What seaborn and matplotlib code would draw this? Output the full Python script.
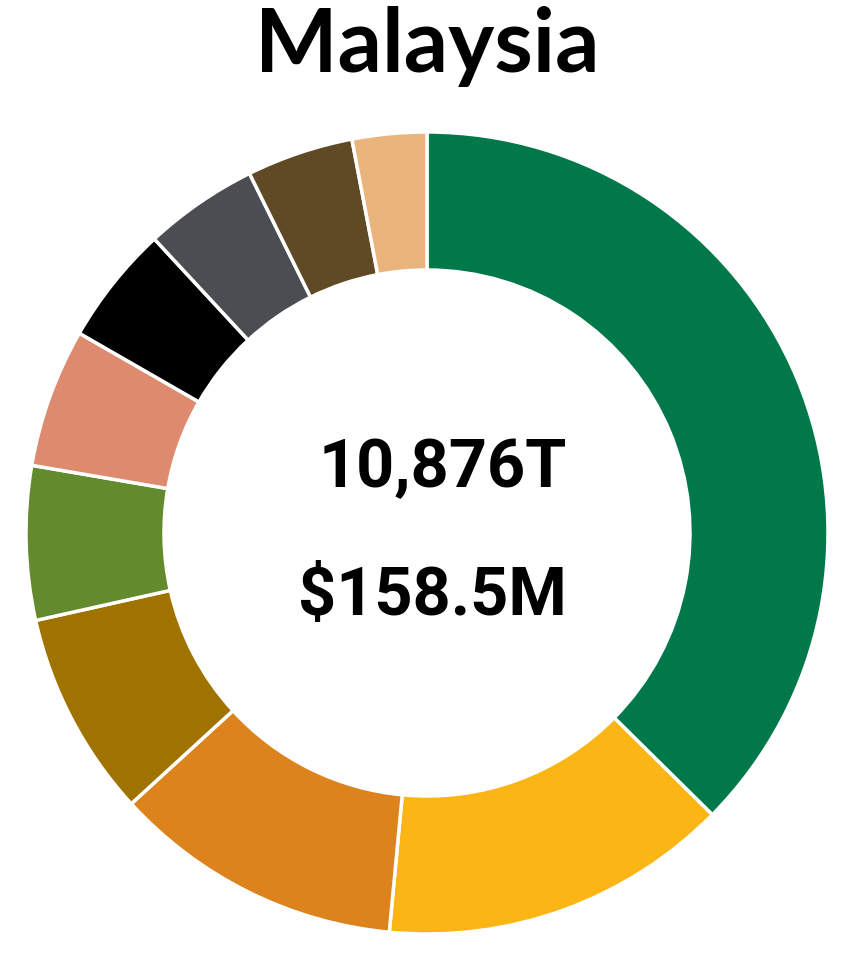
import numpy as np
import matplotlib
matplotlib.use("Agg")
import matplotlib.pyplot as plt
import seaborn as sns

# Donut data, clockwise from 12 o'clock (shares in %)
segments = ["S1", "S2", "S3", "S4", "S5", "S6", "S7", "S8", "S9", "S10"]
shares = [37.4, 14.1, 11.7, 8.3, 6.2, 5.6, 4.8, 4.6, 4.3, 3.0]
colors = ["#00784A", "#FBB616", "#DC831D", "#A07300", "#638B2E",
          "#DE8A6E", "#000000", "#4A4D52", "#5F4A25", "#EAB57D"]

title = "Malaysia"
volume_label = "10,876T"
value_label = "$158.5M"

sns.set_theme(style="white")
plt.rcParams["font.family"] = ["Roboto", "DejaVu Sans"]

W, H = 853, 975
fig = plt.figure(figsize=(W / 100, H / 100), dpi=100)
ax = fig.add_axes([0, 0, 1, 1])

cx, cy = 427, H - 533
r_out, r_in = 401, 263

ax.pie(shares, colors=sns.color_palette(colors), startangle=90, counterclock=False,
       radius=r_out, center=(cx, cy), frame=True,
       wedgeprops=dict(width=r_out - r_in, edgecolor="white", linewidth=2.5))
ax.set_xlim(0, W)
ax.set_ylim(0, H)
ax.set_aspect("equal")
ax.set_axis_off()

ax.text(cx, H - 72, title, ha="center", va="baseline", fontsize=63,
        fontweight="bold", family=["Lato", "DejaVu Sans"], color="black")
ax.text(567, H - 487, volume_label, ha="right", va="baseline", fontsize=48,
        fontweight="bold", color="black")
ax.text(567, H - 615, value_label, ha="right", va="baseline", fontsize=48,
        fontweight="bold", color="black")

fig.savefig("out.png", dpi=100, facecolor="white")
